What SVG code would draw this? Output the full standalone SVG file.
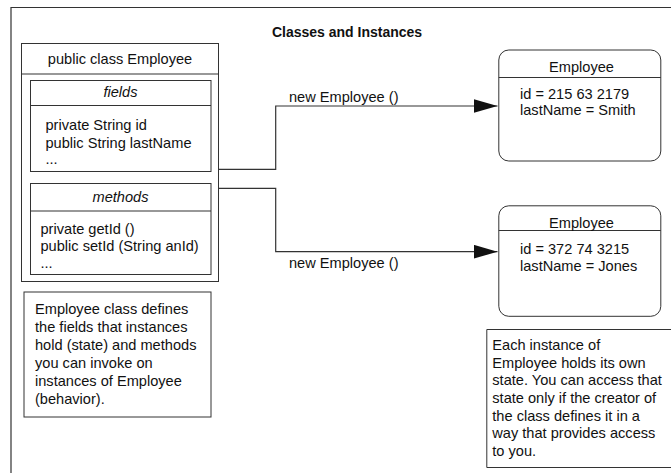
<svg xmlns="http://www.w3.org/2000/svg" width="671" height="473" viewBox="0 0 671 473">
<defs>
<style>
.box{fill:#fff;stroke:#333;stroke-width:1}
.ln{fill:none;stroke:#333;stroke-width:1.2}
text{font-family:"Liberation Sans",Arial,sans-serif;font-size:14.6px;fill:#111}
.c{text-anchor:middle}
.i{font-style:italic}
.t{font-weight:bold;font-size:14px}
</style>
<marker id="ah" markerWidth="24" markerHeight="14" refX="24" refY="7" orient="auto" markerUnits="userSpaceOnUse">
<path d="M0,0 L24,7 L0,14 Z" fill="#111"/>
</marker>
</defs>
<rect width="671" height="473" fill="#fff"/>
<g id="frame">
<path class="ln" d="M11,473 V7.5 H671"/>
<text class="t c" x="347" y="36.5">Classes and Instances</text>
</g>
<g id="class-employee">
<rect class="box" x="21.5" y="43.5" width="197" height="238"/>
<line class="ln" x1="21.5" y1="74" x2="218.5" y2="74"/>
<text class="c" x="120" y="64">public class Employee</text>
</g>
<g id="fields">
<rect class="box" x="30.5" y="80.5" width="180.5" height="91"/>
<line class="ln" x1="30.5" y1="105.5" x2="211" y2="105.5"/>
<text class="c i" x="120.5" y="96.5">fields</text>
<text x="45.5" y="130">private String id</text>
<text x="45.5" y="147.5">public String lastName</text>
<text x="45.5" y="164">...</text>
</g>
<g id="methods">
<rect class="box" x="30.5" y="183.5" width="180.5" height="91"/>
<line class="ln" x1="30.5" y1="211" x2="211" y2="211"/>
<text class="c i" x="120.5" y="202">methods</text>
<text x="40.5" y="233.5">private getId ()</text>
<text x="40.5" y="251">public setId (String anId)</text>
<text x="40.5" y="268">...</text>
</g>
<g id="note-class">
<rect class="box" x="24" y="292" width="187" height="125"/>
<text x="35" y="314">Employee class defines</text>
<text x="35" y="332">the fields that instances</text>
<text x="35" y="350">hold (state) and methods</text>
<text x="35" y="368">you can invoke on</text>
<text x="35" y="386">instances of Employee</text>
<text x="35" y="404">(behavior).</text>
</g>
<g id="instance-smith">
<rect class="box" x="498.8" y="50" width="162" height="111" rx="10" ry="10"/>
<line class="ln" x1="498.8" y1="77.5" x2="660.8" y2="77.5"/>
<text class="c" x="581.5" y="71.5">Employee</text>
<text x="520" y="98.5">id = 215 63 2179</text>
<text x="520" y="115">lastName = Smith</text>
</g>
<g id="instance-jones">
<rect class="box" x="498.8" y="205.8" width="162" height="110.5" rx="10" ry="10"/>
<line class="ln" x1="498.8" y1="230.5" x2="660.8" y2="230.5"/>
<text class="c" x="581.5" y="227.5">Employee</text>
<text x="520" y="253.5">id = 372 74 3215</text>
<text x="520" y="271">lastName = Jones</text>
</g>
<g id="note-instance">
<path class="box" d="M672,467.5 H486.8 V329.5 H672"/>
<text x="492.3" y="350">Each instance of</text>
<text x="492.3" y="367.7">Employee holds its own</text>
<text x="492.3" y="385.3">state. You can access that</text>
<text x="492.3" y="403">state only if the creator of</text>
<text x="492.3" y="420.7">the class defines it in a</text>
<text x="492.3" y="438.3">way that provides access</text>
<text x="492.3" y="456">to you.</text>
</g>
<g id="connectors">
<path class="ln" d="M218.5,169.3 H275.7 V106 H497.5" marker-end="url(#ah)"/>
<path class="ln" d="M218.5,188.3 H275.7 V251.7 H497.5" marker-end="url(#ah)"/>
<text x="289" y="101.5">new Employee ()</text>
<text x="289" y="268">new Employee ()</text>
</g>
</svg>
